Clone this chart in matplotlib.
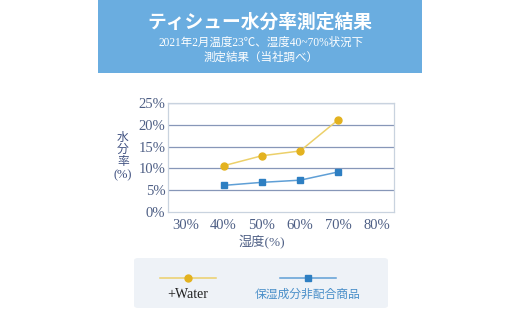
import matplotlib
matplotlib.use("Agg")
import matplotlib.pyplot as plt
from matplotlib.patches import Rectangle, FancyBboxPatch
from matplotlib.lines import Line2D

humidity = [40, 50, 60, 70]
water = [10.6, 12.9, 14.0, 21.2]
plain = [6.1, 6.8, 7.3, 9.2]
x_ticks = [30, 40, 50, 60, 70, 80]
y_ticks = [0, 5, 10, 15, 20, 25]
title = "ティシュー水分率測定結果"
subtitle1 = "2021年2月温度23℃、湿度40~70%状況下"
subtitle2 = "測定結果（当社調べ）"
ylabel_parts = ["水", "分", "率", "(%)"]
xlabel = "湿度(%)"
series_names = ["+Water", "保湿成分非配合商品"]

FAM = ["Liberation Serif", "Noto Sans CJK JP", "DejaVu Sans"]
plt.rcParams["font.family"] = FAM

W, H = 520, 323
fig = plt.figure(figsize=(W / 100, H / 100), dpi=100)
fig.patch.set_facecolor("white")

def fx(px):
    return px / W

def fy(py):
    return 1 - py / H

# header
fig.patches.append(Rectangle((fx(98), fy(73)), fx(422) - fx(98), fy(0) - fy(73),
                             transform=fig.transFigure, facecolor="#6aade0", edgecolor="none", zorder=0))
fig.text(fx(260), fy(22), title, color="white", fontsize=13.5, fontweight="bold",
         ha="center", va="center", family=["Noto Sans CJK JP"])
fig.text(fx(261), fy(43), subtitle1, color="white", fontsize=8.3, ha="center", va="center", family=FAM)
fig.text(fx(261), fy(58), subtitle2, color="white", fontsize=8.3, ha="center", va="center", family=FAM)

# axes
ax = fig.add_axes([fx(168), fy(212), fx(394) - fx(168), fy(103) - fy(212)])
ax.set_xlim(25.5, 84.5)
ax.set_ylim(0, 25)
ax.set_xticks(x_ticks)
ax.set_xticklabels([f"{v}%" for v in x_ticks])
ax.set_yticks(y_ticks)
ax.set_yticklabels([f"{v}%" for v in y_ticks])
for y in y_ticks[1:]:
    ax.axhline(y, color="#8797b8", lw=0.9, zorder=1)
for s in ax.spines.values():
    s.set_color("#c9d3df")
    s.set_linewidth(0.9)
ax.tick_params(axis="both", length=0, colors="#4e5f85", labelsize=10.5)
ax.tick_params(axis="x", pad=5)
ax.tick_params(axis="y", pad=2)

ax.plot(humidity, water, color="#ecd06a", lw=1.1, zorder=3)
ax.plot(humidity, water, ls="none", marker="o", ms=5, color="#e3b21f", zorder=4)
ax.plot(humidity, plain, color="#5f9fd6", lw=1.1, zorder=3)
ax.plot(humidity, plain, ls="none", marker="s", ms=5, color="#2e7fc2", zorder=4)

for txt, py, fs in zip(ylabel_parts, [138, 150, 162, 175], [8.5, 8.5, 8.5, 9]):
    fig.text(fx(123), fy(py), txt, color="#3f5080", fontsize=fs, ha="center", va="center", family=FAM)
fig.text(fx(262), fy(242), xlabel, color="#4e5f85", fontsize=9.5, ha="center", va="center", family=FAM)

# legend box
fig.patches.append(FancyBboxPatch((fx(134), fy(308)), fx(388) - fx(134), fy(258) - fy(308),
                                  boxstyle="round,pad=0,rounding_size=0.008",
                                  transform=fig.transFigure, facecolor="#eef2f7", edgecolor="none", zorder=0))
fig.lines.append(Line2D([fx(160), fx(216)], [fy(278), fy(278)], transform=fig.transFigure,
                        color="#ecd06a", lw=1.1))
fig.lines.append(Line2D([fx(188)], [fy(278)], transform=fig.transFigure, marker="o", ms=5,
                        color="#e3b21f", ls="none"))
fig.lines.append(Line2D([fx(280), fx(336)], [fy(278), fy(278)], transform=fig.transFigure,
                        color="#5f9fd6", lw=1.1))
fig.lines.append(Line2D([fx(308)], [fy(278)], transform=fig.transFigure, marker="s", ms=5,
                        color="#2e7fc2", ls="none"))
fig.text(fx(188), fy(295), series_names[0], color="#222222", fontsize=10, ha="center", va="center", family=FAM)
fig.text(fx(308), fy(295), series_names[1], color="#4a8fc9", fontsize=8.5, ha="center", va="center", family=FAM)

fig.savefig("out.png", dpi=100)
